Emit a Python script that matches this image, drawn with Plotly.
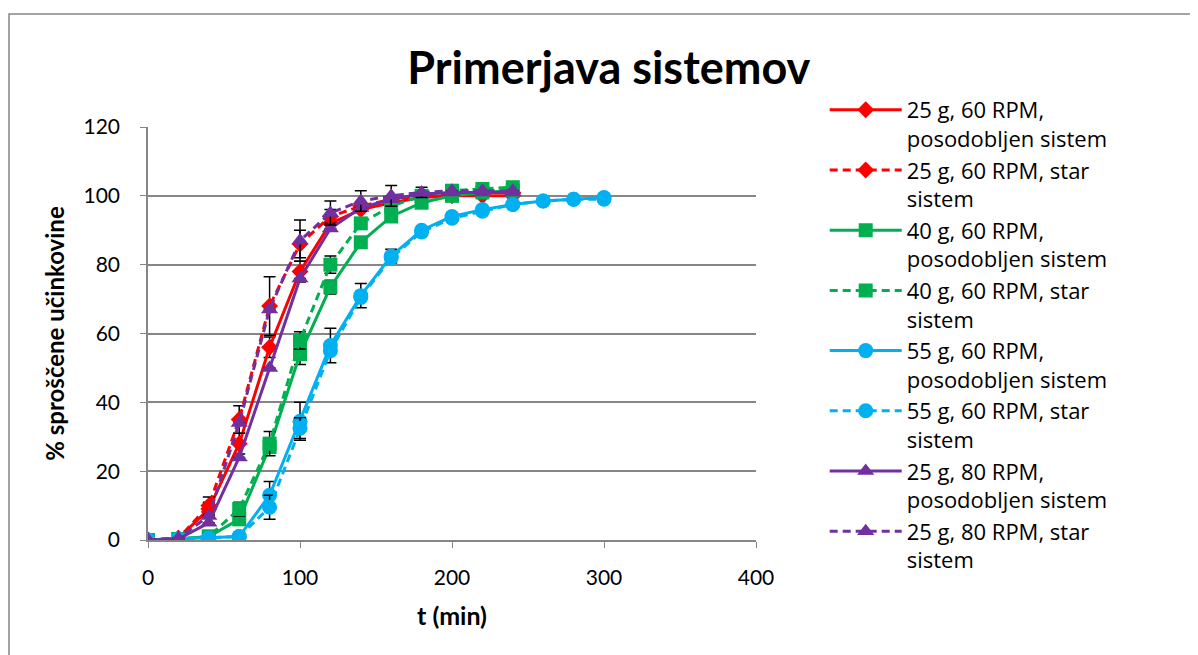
import plotly.graph_objects as go

# ---- data ----
t_short = [0, 20, 40, 60, 80, 100, 120, 140, 160, 180, 200, 220, 240]
t_long = [0, 20, 40, 60, 80, 100, 120, 140, 160, 180, 200, 220, 240, 260, 280, 300]

red_new = [0, 0.5, 9, 28, 56, 78, 92, 96, 98, 99.5, 100, 100, 100]
red_old = [0, 0.5, 10, 35, 68, 86, 94, 97, 99, 100, 100.5, 101, 101]
green_new = [0, 0.3, 1, 6, 27, 54, 73.5, 86.5, 94, 98, 100, 101, 101.5]
green_old = [0, 0.3, 1, 9, 28, 58, 80, 92, 97, 100, 101.5, 102, 102.5]
blue_new = [0, 0.3, 0.5, 1, 13, 34.5, 56.5, 71, 82.5, 90, 94, 96, 97.5, 98.5, 99, 99.5]
blue_old = [0, 0.3, 0.5, 1, 9.5, 32.5, 55, 70.5, 82, 89.5, 93.5, 95.5, 97.5, 98.5, 99, 99]
purple_new = [0, 0.3, 5, 24, 50, 76, 90.5, 96.5, 99, 100.5, 101, 101, 101]
purple_old = [0, 0.5, 7, 34, 67, 87, 95, 98.5, 100, 101, 101.5, 101.5, 101.5]

N = None
err_red_new = [N, N, 2, 3, 3, 3, N, N, N, N, N, N, N]
err_red_old = [N, N, 2.5, 4, 8.5, 4, 2, N, N, N, N, N, N]
err_green_new = [N, N, N, N, N, 3, 2, N, N, N, N, N, N]
err_green_old = [N, N, N, 2, 3.5, 2.5, 2.5, N, N, N, N, N, N]
err_blue_new = [N, N, N, N, 4, 5.5, 5, 3.5, 2, N, N, N, N, N, N, N]
err_blue_old = [N, N, N, N, 3.5, 3, N, N, N, N, N, N, N, N, N, N]
err_purple_new = [N, N, N, N, N, N, N, N, N, N, N, N, N]
err_purple_old = [N, N, N, N, N, 6, 3.5, 3, 3, 1.5, N, N, N]

names = [
    "25 g, 60 RPM,<br>posodobljen sistem",
    "25 g, 60 RPM, star<br>sistem",
    "40 g, 60 RPM,<br>posodobljen sistem",
    "40 g, 60 RPM, star<br>sistem",
    "55 g, 60 RPM,<br>posodobljen sistem",
    "55 g, 60 RPM, star<br>sistem",
    "25 g, 80 RPM,<br>posodobljen sistem",
    "25 g, 80 RPM, star<br>sistem",
]

x_ticks = [0, 100, 200, 300, 400]
y_ticks = [0, 20, 40, 60, 80, 100, 120]

RED, GREEN, BLUE, PURPLE = "#FF0000", "#00B050", "#00B0F0", "#7030A0"

series = [
    (t_short, red_new, err_red_new, RED, "solid", "diamond", 13),
    (t_short, red_old, err_red_old, RED, "dash", "diamond", 13),
    (t_short, green_new, err_green_new, GREEN, "solid", "square", 14),
    (t_short, green_old, err_green_old, GREEN, "dash", "square", 14),
    (t_long, blue_new, err_blue_new, BLUE, "solid", "circle", 15),
    (t_long, blue_old, err_blue_old, BLUE, "dash", "circle", 15),
    (t_short, purple_new, err_purple_new, PURPLE, "solid", "triangle-up", 15),
    (t_short, purple_old, err_purple_old, PURPLE, "dash", "triangle-up", 15),
]

fig = go.Figure()
for (xs, ys, es, col, dash, sym, msz), nm in zip(series, names):
    fig.add_trace(go.Scatter(
        x=xs, y=ys, name=nm, mode="lines+markers",
        line=dict(color=col, width=3, dash=("8px,5px" if dash == "dash" else "solid")),
        marker=dict(color=col, symbol=sym, size=msz),
        error_y=dict(type="data", array=es, visible=True, color="black",
                     thickness=1.5, width=6),
    ))

FONT = "Lato"
fig.update_layout(
    width=1198, height=655,
    margin=dict(l=140, r=450, t=119, b=123),
    paper_bgcolor="white", plot_bgcolor="white",
    font=dict(family=FONT, size=21, color="black"),
    title=dict(text="<b>Primerjava sistemov</b>", x=0.5015, xref="container", xanchor="center",
               y=0.9084, yref="container", yanchor="middle",
               font=dict(family=FONT, size=45, color="black")),
    legend=dict(x=1.113, y=1.092, xanchor="left", yanchor="top", valign="top",
                itemwidth=72, maxheight=640,
                font=dict(family="Open Sans", size=22, color="black"),
                bgcolor="rgba(0,0,0,0)", tracegroupgap=0),
    xaxis=dict(range=[0, 400], tickvals=x_ticks, ticktext=[str(v) for v in x_ticks],
               showgrid=False, zeroline=False, showline=True, linecolor="#868686",
               linewidth=1.5, ticks="outside", tickcolor="#868686", ticklen=6,
               ticklabelstandoff=12,
               title=dict(text="<b>t (min)</b>", font=dict(family=FONT, size=25), standoff=20)),
    yaxis=dict(range=[0, 120], tickvals=y_ticks, ticktext=[str(v) for v in y_ticks],
               showgrid=True, gridcolor="#868686", gridwidth=1.5, zeroline=False,
               showline=True, linecolor="#868686", linewidth=1.5,
               ticks="outside", tickcolor="#868686", ticklen=6,
               ticklabelstandoff=16,
               title=dict(text="<b>% sproščene učinkovine</b>", font=dict(family=FONT, size=24),
                          standoff=12)),
)

# chart frame (Excel chart area border)
fig.add_shape(type="rect", xref="paper", yref="paper",
              x0=-0.2286, x1=1.75, y0=-0.32, y1=1.2736,
              line=dict(color="#868686", width=1.5), fillcolor="rgba(0,0,0,0)", layer="below")

fig.write_html("out.html")
